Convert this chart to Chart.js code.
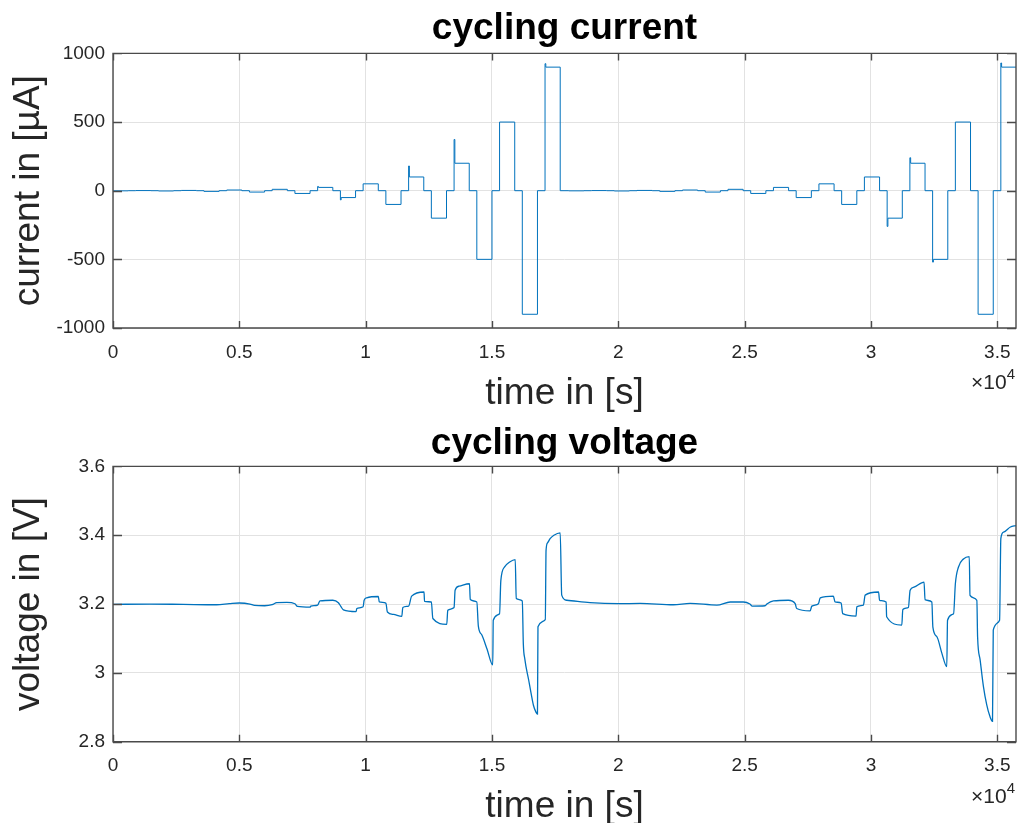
<!DOCTYPE html>
<html>
<head>
<meta charset="utf-8">
<script src="https://cdn.jsdelivr.net/npm/chart.js@4"></script>
<style>
  html, body { margin: 0; padding: 0; background: #ffffff; overflow: hidden; width: 1017px; height: 823px; }
  #c1 { position: absolute; left: 0; top: 0; }
  #c2 { position: absolute; left: 0; top: 411px; }
</style>
</head>
<body>
<canvas id="c1" width="1017" height="416"></canvas>
<canvas id="c2" width="1017" height="418"></canvas>
<script>
// ---------- axis ticks ----------
const xTickValues = [0, 5000, 10000, 15000, 20000, 25000, 30000, 35000];
const xTickLabels = ['0', '0.5', '1', '1.5', '2', '2.5', '3', '3.5'];
const currentTickValues = [-1000, -500, 0, 500, 1000];
const currentTickLabels = ['-1000', '-500', '0', '500', '1000'];
const voltageTickValues = [2.8, 3.0, 3.2, 3.4, 3.6];
const voltageTickLabels = ['2.8', '3', '3.2', '3.4', '3.6'];

// ---------- current (µA), step changes: value holds from its time onward ----------
const currentTimes = [
  0, 600, 900, 1500, 1800, 2400, 2700, 3300, 3600, 4200,
  4500, 5100, 5400, 6000, 6300, 6900, 7200, 7800, 8100, 8130,
  8700, 9000, 9030, 9600, 9900, 10500, 10800, 11400, 11700, 11730,
  12300, 12600, 13200, 13500, 13530, 14100, 14400, 15000, 15300, 15900,
  16200, 16800, 17100, 17130, 17700,
  18040, 18640, 18940, 19540, 19840, 20440, 20740, 21340, 21640, 22240,
  22540, 23140, 23440, 24040, 24340, 24940, 25240, 25840, 26140, 26740,
  27040, 27640, 27940, 28540, 28840, 29440, 29740, 30340, 30640, 30670,
  31240, 31540, 31570, 32140, 32440, 32470, 33040, 33340, 33940, 34240,
  34840, 35140, 35170, 35740
];
const currentValues = [
  -1, 0, 1, 0, -2, 0, 2, 0, -5, 0,
  5, 0, -10, 0, 10, 0, -20, 0, 31, 24,
  0, -67, -50, 0, 50, 0, -100, 0, 180, 100,
  0, -200, 0, 373, 200, 0, -500, 0, 500, 0,
  -900, 0, 925, 900, 0,
  -1, 0, 1, 0, -2, 0, 2, 0, -5, 0,
  5, 0, -10, 0, 10, 0, -20, 0, 24, 0,
  -50, 0, 50, 0, -100, 0, 100, 0, -260, -200,
  0, 240, 200, 0, -520, -500, 0, 500, 0, -900,
  0, 930, 900, 900
];

// ---------- voltage (V) ----------
const voltageTimes = [
  0, 1460, 2780, 4100, 4600, 5000, 5420, 5600, 6000, 6300,
  6480, 6880, 7200, 7300, 7800, 7830, 8100, 8190, 8700, 8920,
  9010, 9120, 9620, 9650, 9900, 9940, 10040, 10500, 10540, 10800,
  10860, 11100, 11430, 11470, 11700, 11820, 12310, 12330, 12600, 12660,
  13210, 13250, 13500, 13540, 13700, 14110, 14140, 14400, 14460, 14600,
  14800, 15030, 15050, 15300, 15350, 15500, 15700, 15920, 15960, 16200,
  16240, 16300, 16450, 16550, 16640, 16740, 16800, 16820, 17110, 17140,
  17200, 17300, 17450, 17700, 17760, 17960, 18880, 20000, 20870, 22180,
  22840, 23900, 24430, 24950, 25210, 25300, 25810, 25880, 26140, 26730,
  27000, 27060, 27590, 27660, 27920, 27990, 28510, 28580, 28820, 28880,
  29410, 29440, 29700, 29770, 30300, 30340, 30600, 30620, 31220, 31260,
  31480, 31550, 31700, 32100, 32140, 32410, 32450, 32610, 32810, 33000,
  33030, 33270, 33340, 33460, 33660, 33890, 33920, 34190, 34220, 34320,
  34450, 34580, 34710, 34810, 34840, 35090, 35140, 35250, 35520, 35740
];
const voltageValues = [
  3.199, 3.200, 3.199, 3.198, 3.201, 3.203, 3.200, 3.196, 3.195, 3.198,
  3.204, 3.205, 3.201, 3.193, 3.191, 3.194, 3.197, 3.209, 3.211, 3.204,
  3.194, 3.183, 3.178, 3.187, 3.192, 3.211, 3.218, 3.222, 3.206, 3.203,
  3.177, 3.170, 3.164, 3.190, 3.194, 3.223, 3.235, 3.208, 3.206, 3.158,
  3.141, 3.182, 3.190, 3.240, 3.252, 3.259, 3.213, 3.206, 3.136, 3.110,
  3.070, 3.023, 3.153, 3.172, 3.268, 3.308, 3.322, 3.329, 3.216, 3.209,
  3.085, 3.040, 2.980, 2.940, 2.906, 2.886, 2.880, 3.134, 3.155, 3.356,
  3.378, 3.390, 3.400, 3.407, 3.226, 3.211, 3.204, 3.201, 3.202, 3.198,
  3.202, 3.197, 3.206, 3.206, 3.200, 3.194, 3.195, 3.200, 3.209, 3.211,
  3.201, 3.187, 3.180, 3.194, 3.201, 3.218, 3.223, 3.206, 3.203, 3.172,
  3.165, 3.192, 3.197, 3.226, 3.235, 3.211, 3.206, 3.163, 3.139, 3.184,
  3.190, 3.240, 3.249, 3.264, 3.213, 3.206, 3.133, 3.105, 3.056, 3.018,
  3.153, 3.172, 3.259, 3.307, 3.331, 3.338, 3.225, 3.211, 3.105, 3.038,
  2.961, 2.908, 2.873, 2.859, 3.124, 3.153, 3.390, 3.409, 3.424, 3.428
];

const X_MAX = 35740;
const LINE_COLOR = '#0072BD';
const AXIS_COLOR = '#262626';
const FONT = '"Liberation Sans", Arial, Helvetica, sans-serif';

function toPoints(xs, ys) {
  const n = Math.min(xs.length, ys.length);
  const pts = [];
  for (let i = 0; i < n; i++) pts.push({ x: xs[i], y: ys[i] });
  return pts;
}

// MATLAB-like box, inward ticks and the x10^4 exponent label
const matlabAxes = {
  id: 'matlabAxes',
  afterDraw(chart) {
    const { ctx, chartArea: ca, scales } = chart;
    const xs = scales.x, ys = scales.y;
    ctx.save();
    ctx.strokeStyle = '#4a4a4a';
    ctx.lineWidth = 1.4;
    ctx.beginPath();
    ctx.rect(ca.left, ca.top, ca.right - ca.left, ca.bottom - ca.top);
    xTickValues.forEach(v => {
      const px = Math.round(xs.getPixelForValue(v)) + 0.5;
      ctx.moveTo(px, ca.bottom); ctx.lineTo(px, ca.bottom - 7);
      ctx.moveTo(px, ca.top); ctx.lineTo(px, ca.top + 7);
    });
    ys.ticks.forEach(t => {
      const py = Math.round(ys.getPixelForValue(t.value)) + 0.5;
      ctx.moveTo(ca.left, py); ctx.lineTo(ca.left + 9, py);
      ctx.moveTo(ca.right, py); ctx.lineTo(ca.right - 9, py);
    });
    ctx.stroke();
    // exponent label
    const baseY = ca.bottom + 61;
    const rightX = ca.right - 1;
    ctx.fillStyle = AXIS_COLOR;
    ctx.textBaseline = 'alphabetic';
    ctx.textAlign = 'right';
    ctx.font = '15px ' + FONT;
    const w4 = ctx.measureText('4').width;
    ctx.fillText('4', rightX, baseY - 10);
    ctx.font = '21px ' + FONT;
    ctx.fillText('\u00d710', rightX - w4, baseY);
    ctx.restore();
  }
};

function makeChart(canvasId, cfg) {
  return new Chart(document.getElementById(canvasId), {
    type: 'line',
    data: {
      datasets: [{
        data: cfg.points,
        borderColor: LINE_COLOR,
        borderWidth: cfg.lineWidth,
        pointRadius: 0,
        pointHoverRadius: 0,
        fill: false,
        tension: 0,
        cubicInterpolationMode: cfg.interp,
        stepped: cfg.stepped
      }]
    },
    options: {
      responsive: false,
      animation: false,
      devicePixelRatio: 1,
      events: [],
      layout: { padding: { left: 0, right: 1, top: 0, bottom: 0 } },
      plugins: {
        legend: { display: false },
        tooltip: { enabled: false },
        title: {
          display: true,
          text: cfg.title,
          color: '#000000',
          fullSize: false,
          font: { family: FONT, size: 37, weight: 'bold', lineHeight: 1.2 },
          padding: cfg.titlePadding
        }
      },
      scales: {
        x: {
          type: 'linear',
          min: 0,
          max: X_MAX,
          afterBuildTicks: s => { s.ticks = xTickValues.map(v => ({ value: v })); },
          afterFit: s => { s.height = cfg.xHeight; s.paddingRight = 0; s.paddingLeft = 0; },
          ticks: {
            color: AXIS_COLOR,
            font: { family: FONT, size: 19, lineHeight: 1.2 },
            padding: 13,
            maxRotation: 0,
            autoSkip: false,
            callback: v => xTickLabels[xTickValues.indexOf(v)] ?? ''
          },
          grid: { color: '#e2e2e2', lineWidth: 1, drawTicks: false },
          border: { display: false },
          title: {
            display: true,
            text: 'time in [s]',
            color: AXIS_COLOR,
            font: { family: FONT, size: 37, lineHeight: 1.2 },
            padding: { top: 0, bottom: 0 }
          }
        },
        y: {
          type: 'linear',
          min: cfg.yMin,
          max: cfg.yMax,
          afterBuildTicks: s => { s.ticks = cfg.yTicks.map(v => ({ value: v })); },
          afterFit: s => { s.width = 113; },
          ticks: {
            color: AXIS_COLOR,
            font: { family: FONT, size: 19, lineHeight: 1.2 },
            padding: 8,
            autoSkip: false,
            callback: v => {
              const i = cfg.yTicks.findIndex(t => Math.abs(t - v) < 1e-9);
              return i >= 0 ? cfg.yLabels[i] : '';
            }
          },
          grid: { color: '#e2e2e2', lineWidth: 1, drawTicks: false },
          border: { display: false },
          title: {
            display: true,
            text: cfg.yTitle,
            color: AXIS_COLOR,
            font: { family: FONT, size: 37, lineHeight: 1.2 },
            padding: { top: 7, bottom: 0 }
          }
        }
      }
    },
    plugins: [matlabAxes]
  });
}

makeChart('c1', {
  points: toPoints(currentTimes, currentValues),
  lineWidth: 1,
  stepped: 'before',
  interp: 'default',
  title: 'cycling current',
  titlePadding: { top: 7, bottom: 2 },
  xHeight: 88,
  yMin: -1000, yMax: 1000,
  yTicks: currentTickValues, yLabels: currentTickLabels,
  yTitle: 'current in [\u00b5A]'
});

makeChart('c2', {
  points: toPoints(voltageTimes, voltageValues),
  lineWidth: 1.3,
  stepped: false,
  interp: 'monotone',
  title: 'cycling voltage',
  titlePadding: { top: 11, bottom: 0 },
  xHeight: 87.3,
  yMin: 2.8, yMax: 3.6,
  yTicks: voltageTickValues, yLabels: voltageTickLabels,
  yTitle: 'voltage in [V]'
});
</script>
</body>
</html>
